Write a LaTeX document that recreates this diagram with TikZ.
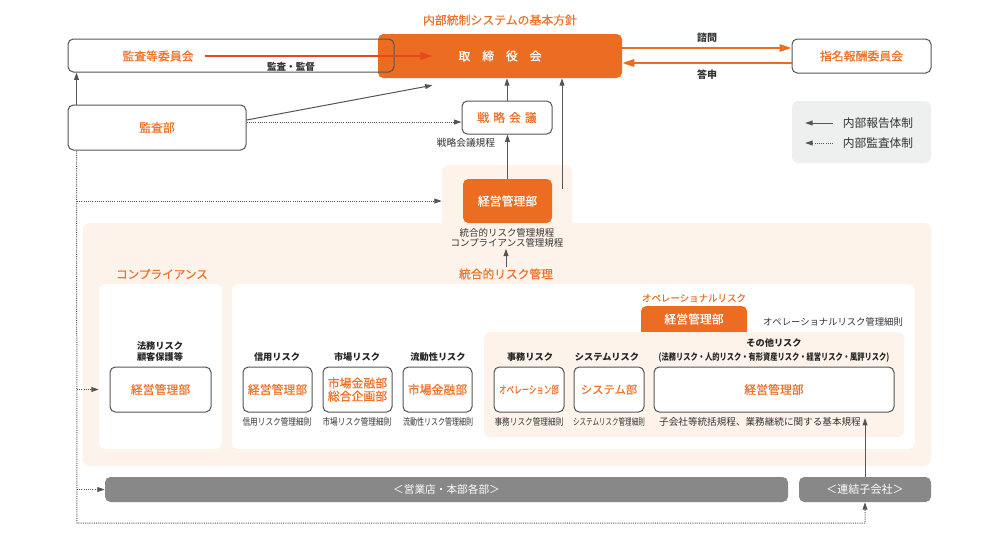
\documentclass[tikz,border=0pt]{standalone}
\usepackage{fontspec}
\usepackage{graphicx}
\setmainfont{Noto Sans CJK JP}
\newfontfamily\jpm[FakeBold=0.5]{Noto Sans CJK JP}
\usetikzlibrary{arrows.meta,calc}
\definecolor{org}{HTML}{EC6C22}
\definecolor{orgtxt}{HTML}{EE7228}
\definecolor{orgred}{HTML}{E8461E}
\definecolor{peach}{HTML}{FDF3EA}
\definecolor{bord}{HTML}{555555}
\definecolor{barg}{HTML}{888888}
\definecolor{legbg}{HTML}{EEEFEF}
\definecolor{txt}{HTML}{333333}
\newcommand\fsz[1]{\fontsize{#1pt}{#1pt}\selectfont}
\newcommand\bx[7]{\node[#6, minimum width={(#4-#2)*0.75pt}, minimum height={(#5-#3)*0.75pt}] (#1) at ({(#2+#4)/2},{(#3+#5)/2}) {#7};}
\tikzset{
  x=0.75pt, y=-0.75pt,
  wbox/.style={draw=bord, line width=0.75pt, rounded corners=4pt, fill=white, inner sep=0pt, text=orgtxt, font=\jpm\fsz{8.9}},
  obox/.style={fill=org, rounded corners=4pt, inner sep=0pt, text=white, font=\jpm\fsz{8.9}},
  peachbox/.style={fill=peach, rounded corners=5pt, inner sep=0pt},
  wpanel/.style={fill=white, rounded corners=5pt, inner sep=0pt},
  gbar/.style={fill=barg, rounded corners=4pt, inner sep=0pt, text=white, font=\fsz{8}},
  lbl/.style={inner sep=1pt, text=txt, font=\fsz{7.2}},
  otxt/.style={inner sep=1pt, text=orgtxt, font=\jpm\fsz{8.9}},
  head/.style={inner sep=1pt, text=black!85, font=\bfseries\fsz{6.9}, align=center},
  rule/.style={inner sep=1pt, text=txt, font=\fsz{7}},
  arr/.style={draw=bord, line width=0.75pt, -{Triangle[length=5.5pt,width=3.6pt]}},
  dotarr/.style={arr, dash pattern=on 0.75pt off 0.9pt},
  oarr/.style={draw=org, line width=1.5pt, -{Triangle[length=9pt,width=5.5pt]}},
}
\begin{document}
\begin{tikzpicture}
\fill[white] (0,0) rectangle (1000,539);
\useasboundingbox (0,0) rectangle (1000,539);

% peach areas
\bx{tab}{442}{165}{572}{240}{peachbox}{}
\bx{risk}{83}{223}{931}{466}{peachbox}{}
\bx{comp}{99}{284}{222}{449}{wpanel}{}
\bx{riskp}{232}{284}{915}{449}{wpanel}{}
\bx{optabbg}{641}{306}{747}{338}{obox}{}
\bx{opa}{484}{332}{904}{437}{peachbox}{}
\node[inner sep=0pt, text=white, font=\jpm\fsz{8.9}] (optab) at (694,319) {経営管理部};

% top
\node[otxt] (title) at (500,20) {内部統制システムの基本方針};
\bx{tori}{378}{34}{622}{78}{obox}{取\quad 締\quad 役\quad 会}
\bx{iinkai}{68}{39}{394}{72}{wbox, fill=none}{}
\node[otxt] (iinkaitxt) at (158,56) {監査等委員会};
\bx{shimei}{792}{39}{931}{73}{wbox}{指名報酬委員会}
\bx{kansabu}{68}{105}{246}{150}{wbox}{監査部}
\bx{senryaku}{462}{101}{552}{134}{wbox}{戦\hspace{3pt}略\hspace{3pt}会\hspace{3pt}議}
\node[lbl, font=\fsz{7.3}] (senrule) at (466,143) {戦略会議規程};
\bx{keiei}{463}{179}{552}{223}{obox}{経営管理部}
\node[lbl, font=\fsz{7.1}, align=center] (togorules) at (507,238) {\fontsize{7.1pt}{9pt}\selectfont 統合的リスク管理規程\\コンプライアンス管理規程};
\node[otxt, font=\jpm\fsz{8.8}] (togolbl) at (506,274) {統合的リスク管理};
\node[otxt, font=\jpm\fsz{8.7}] (complbl) at (162,274) {コンプライアンス};

% legend
\bx{legend}{792}{101}{931}{163}{fill=legbg, rounded corners=4pt, inner sep=0pt}{}
\node[inner sep=1pt, text=txt, font=\fsz{8.8}] (leg1) at (878,123) {内部報告体制};
\node[inner sep=1pt, text=txt, font=\fsz{8.8}] (leg2) at (878,143) {内部監査体制};
\draw[arr] ([xshift=-6pt]leg1.west) -- ++(-28,0);
\draw[dotarr] ([xshift=-6pt]leg2.west) -- ++(-28,0);

% compliance
\node[head, font=\bfseries\fontsize{6.9pt}{8.3pt}\selectfont] (comph) at (160,351.5) {法務リスク\\顧客保護等};
\bx{compkeiei}{110}{367}{211}{412}{wbox}{経営管理部}

% risk columns
\node[head] (h1) at (277,357) {信用リスク};
\node[head] (h2) at (357,357) {市場リスク};
\node[head] (h3) at (438,357) {流動性リスク};
\node[head] (h4) at (530,357) {事務リスク};
\node[head] (h5) at (607,357) {システムリスク};
\node[head] (h6a) at (774,343) {その他リスク};
\node[head] (h6b) at (774,357) {\scalebox{0.79}[1]{(法務リスク・人的リスク・有形資産リスク・経営リスク・風評リスク)}};

\bx{shinyo}{243}{367}{312}{412}{wbox}{経営管理部}
\bx{shijo}{323}{367}{392}{412}{wbox, align=center, font=\jpm\fontsize{8.9pt}{9.8pt}\selectfont}{市場金融部\\総合企画部}
\bx{ryudo}{403}{367}{472}{412}{wbox}{市場金融部}
\bx{jimu}{494}{367}{564}{412}{wbox, font=\jpm\fsz{8}}{\scalebox{0.7}[1]{オペレーション部}}
\bx{system}{574}{367}{644}{412}{wbox, font=\jpm\fsz{8.5}}{システム部}
\bx{other}{654}{367}{894}{412}{wbox}{経営管理部}

\node[rule] (r1) at (277,422) {\scalebox{0.82}[1]{信用リスク管理細則}};
\node[rule] (r2) at (357,422) {\scalebox{0.82}[1]{市場リスク管理細則}};
\node[rule] (r3) at (438,422) {\scalebox{0.75}[1]{流動性リスク管理細則}};
\node[rule] (r4) at (529,422) {\scalebox{0.82}[1]{事務リスク管理細則}};
\node[rule] (r5) at (609,422) {\scalebox{0.70}[1]{システムリスク管理細則}};
\node[rule, font=\fsz{7.2}] (r6) at (760,422) {子会社等統括規程、業務継続に関する基本規程};

\node[otxt, font=\jpm\fsz{7.1}] (oplbl) at (694,298) {オペレーショナルリスク};
\node[rule] (oprule) at (833,322) {オペレーショナルリスク管理細則};

% bottom bars
\bx{eigyo}{105}{477}{788}{502}{gbar}{＜営業店・本部各部＞}
\bx{renketsu}{799}{477}{931}{502}{gbar, font=\fsz{8.3}}{＜連結子会社＞}

% orange connectors
\draw[oarr, draw=orgred] ([xshift=7pt]iinkaitxt.east) -- ([xshift=41pt]tori.west);
\node[lbl, font=\bfseries\fsz{7.2}] (kansalbl) at (291,67) {監査・監督};
\draw[oarr] ([yshift=6pt]tori.east) -- ([yshift=6pt]shimei.west);
\draw[oarr] ([yshift=-5.25pt]shimei.west) -- ([yshift=-5.25pt]tori.east);
\node[lbl, font=\bfseries\fsz{7.5}] (shimon) at (707,38) {諮問};
\node[lbl, font=\bfseries\fsz{7.5}] (toshin) at (707,75) {答申};

% solid reporting lines
\draw[arr] ([xshift=6.75pt]kansabu.north west) -- ([xshift=6.75pt]iinkai.south west);
\coordinate (tarr) at ([xshift=41pt,yshift=-5.25pt]tori.south west);
\draw[arr] ([yshift=5.6pt]kansabu.east) -- (tarr);
\draw[arr] (senryaku.north) -- (senryaku.north |- tori.south);
\draw[arr] (keiei.north) -- (keiei.north |- senryaku.south);
\coordinate (r562) at (562,189);
\draw[arr] (r562) -- (r562 |- tori.south);
\draw[arr] (togolbl.north) -- (togolbl.north |- togorules.south);
\coordinate (rk418) at (865,418);
\draw[arr] (renketsu.north) -- (rk418);

% dotted audit lines
\coordinate (sw) at ([yshift=-3.4pt]senryaku.west);
\draw[dotarr] (kansabu.east |- sw) -- (sw);
\coordinate (bl) at (77,523);
\draw[dotarr] ([xshift=6.75pt]kansabu.south west) -- (bl) -| (renketsu.south);
\draw[dotarr] (bl |- keiei) -- (tab.west |- keiei);
\draw[dotarr] (bl |- compkeiei) -- (comp.west |- compkeiei);
\draw[dotarr] (bl |- eigyo) -- (eigyo.west);
\end{tikzpicture}
\end{document}
